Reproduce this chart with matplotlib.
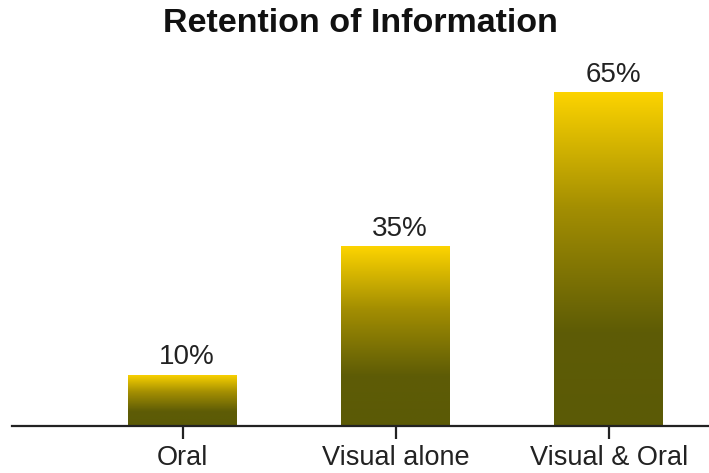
import matplotlib.pyplot as plt
import numpy as np
from matplotlib.colors import LinearSegmentedColormap

categories = ['Oral', 'Visual alone', 'Visual & Oral']
retention = [10, 35, 65]
labels = ['10%', '35%', '65%']

plt.rcParams['font.family'] = ['Liberation Sans', 'DejaVu Sans']

fig = plt.figure(figsize=(7.09, 4.73), dpi=100)
ax = fig.add_axes([12/709, 47/473, 697/709, 366/473])

x = np.arange(len(categories))
bars = ax.bar(x, retention, width=0.51, color='none', edgecolor='none')

# top gold -> olive at about 70% down, then flat olive
cmap = LinearSegmentedColormap.from_list(
    'gold_olive', [(0.0, '#5b5a06'), (0.28, '#5e5c06'), (0.65, '#a38e02'), (1.0, '#fdd400')])
grad = np.linspace(0, 1, 256).reshape(-1, 1)
for b in bars:
    x0, w, h = b.get_x(), b.get_width(), b.get_height()
    im = ax.imshow(grad, cmap=cmap, origin='lower', aspect='auto',
                   extent=(x0, x0 + w, 0, h), zorder=2)
    im.set_clip_path(b)

for xi, v, lab in zip(x, retention, labels):
    ax.annotate(lab, (xi, v), xytext=(3, 3), textcoords='offset points',
                ha='center', va='bottom', fontsize=20, color='#222222')

ax.set_xlim(-0.80, 2.47)
ax.set_ylim(0, 71.2)
ax.set_xticks(x)
ax.set_xticklabels(categories, fontsize=19.5, color='#222222')
ax.set_yticks([])
for s in ['top', 'right', 'left']:
    ax.spines[s].set_visible(False)
ax.spines['bottom'].set_linewidth(1.6)
ax.spines['bottom'].set_color('#222222')
ax.tick_params(axis='x', direction='out', length=9, width=1.6, color='#222222', pad=4.5)

fig.text(0.508, 1 - 24/473, 'Retention of Information', ha='center', va='center',
         fontsize=24.5, fontweight='bold', color='#111111')

fig.savefig('out.png', dpi=100)
